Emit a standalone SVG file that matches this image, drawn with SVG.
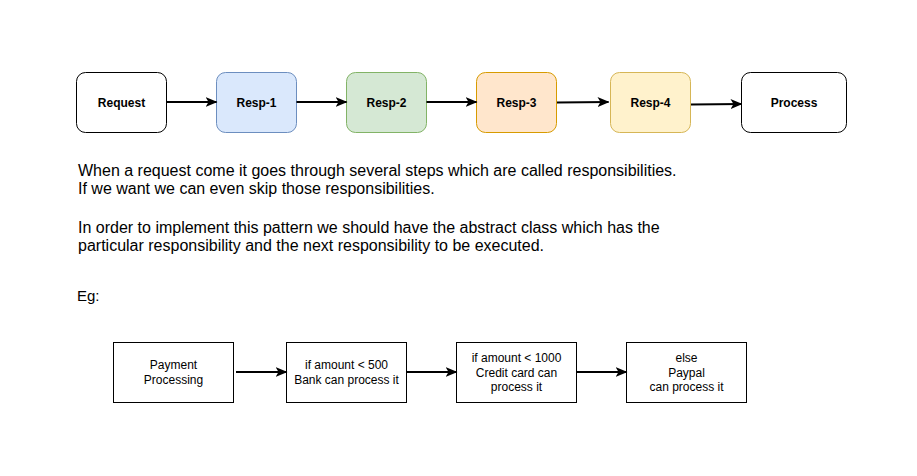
<svg xmlns="http://www.w3.org/2000/svg" width="917" height="476" viewBox="0 0 917 476">
<defs>
<marker id="arr" markerWidth="12" markerHeight="10" refX="11" refY="5" orient="auto" markerUnits="userSpaceOnUse">
<path d="M0,0 L12,5 L0,10 L3,5 Z" fill="#000"/>
</marker>
<style>
.n{stroke-width:1}
.lb{font-family:"Liberation Sans",Arial,sans-serif;font-size:12px;font-weight:bold;text-anchor:middle;fill:#000}
.sm{font-family:"Liberation Sans",Arial,sans-serif;font-size:12px;text-anchor:middle;fill:#000}
.tx{font-family:"Liberation Sans",Arial,sans-serif;font-size:16px;fill:#000}
.c{fill:none;stroke:#000;stroke-width:2;marker-end:url(#arr)}
</style>
</defs>
<rect width="917" height="476" fill="#fff"/>
<g id="request"><rect class="n" x="76.5" y="72.5" width="90" height="60" rx="9" fill="#fff" stroke="#000"/><text class="lb" x="121.5" y="106.5">Request</text></g>
<g id="resp1"><rect class="n" x="216.5" y="72.5" width="80" height="60" rx="9" fill="#dae8fc" stroke="#6c8ebf"/><text class="lb" x="256.5" y="106.5">Resp-1</text></g>
<g id="resp2"><rect class="n" x="346.5" y="72.5" width="80" height="60" rx="9" fill="#d5e8d4" stroke="#82b366"/><text class="lb" x="386.5" y="106.5">Resp-2</text></g>
<g id="resp3"><rect class="n" x="476.5" y="72.5" width="80" height="60" rx="9" fill="#ffe6cc" stroke="#d79b00"/><text class="lb" x="516.5" y="106.5">Resp-3</text></g>
<g id="resp4"><rect class="n" x="610.5" y="72.5" width="80" height="60" rx="9" fill="#fff2cc" stroke="#d6b656"/><text class="lb" x="650.5" y="106.5">Resp-4</text></g>
<g id="process"><rect class="n" x="741.5" y="72.5" width="105" height="60" rx="9" fill="#fff" stroke="#000"/><text class="lb" x="794" y="106.5">Process</text></g>
<g id="desc">
<text class="tx" x="78" y="175.5">When a request come it goes through several steps which are called responsibilities.</text>
<text class="tx" x="78" y="194">If we want we can even skip those responsibilities.</text>
<text class="tx" x="78" y="232.5">In order to implement this pattern we should have the abstract class which has the</text>
<text class="tx" x="78" y="251">particular responsibility and the next responsibility to be executed.</text>
</g>
<g id="eg"><text class="tx" x="77" y="301" style="font-size:15px">Eg:</text></g>
<g id="payment"><rect x="113.5" y="342.5" width="120" height="60" fill="#fff" stroke="#000"/><text class="sm" x="173.5" y="369">Payment</text><text class="sm" x="173.5" y="384">Processing</text></g>
<g id="bank"><rect x="286.5" y="342.5" width="120" height="60" fill="#fff" stroke="#000"/><text class="sm" x="346.5" y="369">if amount &lt; 500</text><text class="sm" x="346.5" y="384">Bank can process it</text></g>
<g id="credit"><rect x="456.5" y="342.5" width="120" height="60" fill="#fff" stroke="#000"/><text class="sm" x="516.5" y="362">if amount &lt; 1000</text><text class="sm" x="516.5" y="376.5">Credit card can</text><text class="sm" x="516.5" y="391">process it</text></g>
<g id="paypal"><rect x="626.5" y="342.5" width="120" height="60" fill="#fff" stroke="#000"/><text class="sm" x="686.5" y="362">else</text><text class="sm" x="686.5" y="376.5">Paypal</text><text class="sm" x="686.5" y="391">can process it</text></g>
<g id="connectors">
<path class="c" d="M166.5,102 L216.5,102"/>
<path class="c" d="M296.5,102 L346.5,102"/>
<path class="c" d="M426.5,102 L476.5,102"/>
<path class="c" d="M557,102.5 L608.5,102"/>
<path class="c" d="M691,104.5 L741.5,104"/>
<path class="c" d="M236,372 L286.5,372"/>
<path class="c" d="M406.5,372 L456.5,372"/>
<path class="c" d="M576.5,372 L626.5,372"/>
</g>
</svg>
